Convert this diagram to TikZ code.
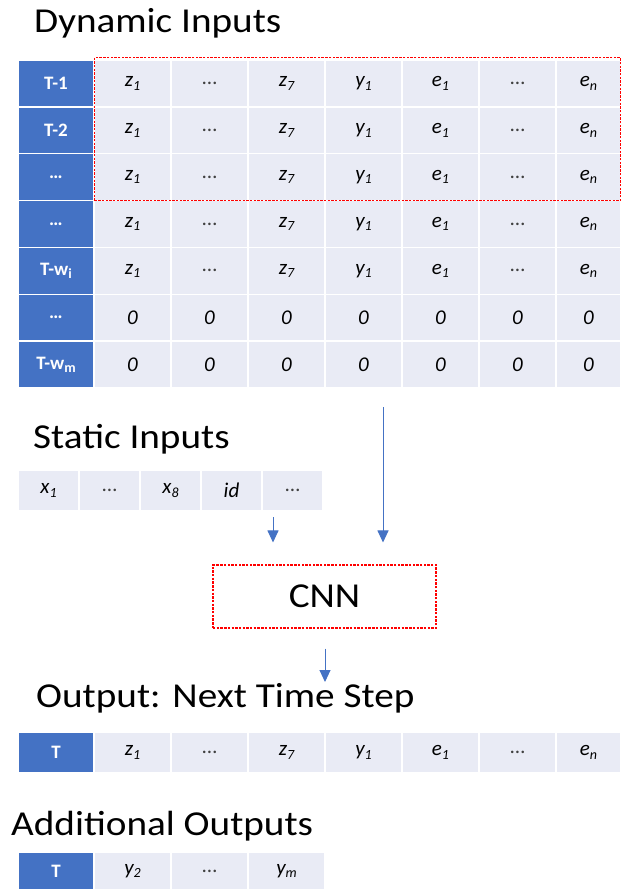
\documentclass[tikz,border=0pt]{standalone}
\usepackage{fontspec}
\setmainfont{Carlito}
\usetikzlibrary{arrows.meta}
\definecolor{hblue}{RGB}{68,114,196}
\definecolor{cellbg}{RGB}{233,235,245}
\newcommand\mysub[1]{\raisebox{-0.35ex}{\fontsize{14}{14}\selectfont #1}}
\newcommand\ttl[1]{\scalebox{1.12}[1]{#1}}
\newcommand\dts{{\upshape\color{black!75}…}}
\begin{document}
\begin{tikzpicture}[x=1pt,y=-1pt,
  cell/.style={draw=white, line width=1.3pt, fill=cellbg, inner sep=0pt,
    font=\fontsize{21}{21}\selectfont\itshape},
  hcell/.style={cell, fill=hblue, text=white, font=\fontsize{19}{19}\selectfont\bfseries},
  title/.style={anchor=base west, inner sep=0pt, font=\fontsize{35}{35}\selectfont},
  redbox/.style={draw=red, line width=1.1pt, dash pattern=on 2.4pt off 1.3pt, inner sep=0pt},
  arr/.style={draw=hblue, line width=1pt, -{Triangle[width=11pt,length=12pt]}}]
\useasboundingbox (0,0) rectangle (621,890);

% titles
\node[title] (tdyn) at (34,33) {\ttl{Dynamic Inputs}};
\node[title] (tstat) at (33,448) {\ttl{Static Inputs}};
\node[title] (tout) at (36,707) {\ttl{Output: Next Time Step}};
\node[title] (tadd) at (11,835) {\ttl{Additional Outputs}};

% dynamic inputs table
\foreach \lab [count=\r from 0] in {T-1,T-2,…,…,{T-w\mysub{i}},…,{T-w\mysub{m}}}{
  \pgfmathsetmacro\yy{60+46.857*(\r+0.5)}
  \node[hcell, minimum width=76pt, minimum height=46.86pt] (dl\r) at (56,\yy) {\lab};
}
\foreach \r in {0,...,4}{
  \pgfmathsetmacro\yy{60+46.857*(\r+0.5)}
  \foreach \cx/\w/\txt [count=\c] in {132.5/77/{z\mysub{1}},209.5/77/{\dts},286.5/77/{z\mysub{7}},363.5/77/{y\mysub{1}},440.5/77/{e\mysub{1}},517.5/77/{\dts},588.5/65/{e\mysub{n}}}{
    \node[cell, minimum width=\w pt, minimum height=46.86pt] (d\r-\c) at (\cx,\yy) {\txt};
  }
}
\foreach \r in {5,6}{
  \pgfmathsetmacro\yy{60+46.857*(\r+0.5)}
  \foreach \cx/\w [count=\c] in {132.5/77,209.5/77,286.5/77,363.5/77,440.5/77,517.5/77,588.5/65}{
    \node[cell, minimum width=\w pt, minimum height=46.86pt] (d\r-\c) at (\cx,\yy) {0};
  }
}
\node[redbox, minimum width=526pt, minimum height=143pt, anchor=north west] (sel) at (94,57) {};

% static inputs
\foreach \txt [count=\c] in {{x\mysub{1}},{\dts},{x\mysub{8}},{id},{\dts}}{
  \pgfmathsetmacro\xx{18+61*(\c-0.5)}
  \node[cell, line width=2pt, minimum width=61pt, minimum height=41pt] (s\c) at (\xx,490.5) {\txt};
}

% CNN
\node[redbox, minimum width=223pt, minimum height=63pt, font=\fontsize{35}{35}\selectfont] (cnn) at (324.5,596.5) {\ttl{CNN}};

% arrows
\coordinate (dynsrc) at (383,407);
\coordinate (statsrc) at (273,517);
\coordinate (outin) at (325,682);
\draw[arr, shorten >=22pt] (dynsrc) -- (dynsrc |- cnn.north);
\draw[arr, shorten >=22pt] (statsrc) -- (statsrc |- cnn.north);
\draw[arr, shorten <=20pt] (cnn.south -| outin) -- (outin);

% output next time step
\node[hcell, minimum width=76pt, minimum height=41pt] (o0) at (56,752.5) {T};
\foreach \cx/\w/\txt [count=\c] in {132.5/77/{z\mysub{1}},209.5/77/{\dts},286.5/77/{z\mysub{7}},363.5/77/{y\mysub{1}},440.5/77/{e\mysub{1}},517.5/77/{\dts},588.5/65/{e\mysub{n}}}{
  \node[cell, minimum width=\w pt, minimum height=41pt] (o\c) at (\cx,752.5) {\txt};
}

% additional outputs
\node[hcell, minimum width=76pt, minimum height=38pt] (a0) at (56,871) {T};
\foreach \cx/\txt [count=\c] in {132.5/{y\mysub{2}},209.5/{\dts},286.5/{y\mysub{m}}}{
  \node[cell, minimum width=77pt, minimum height=38pt] (a\c) at (\cx,871) {\txt};
}
\end{tikzpicture}
\end{document}
